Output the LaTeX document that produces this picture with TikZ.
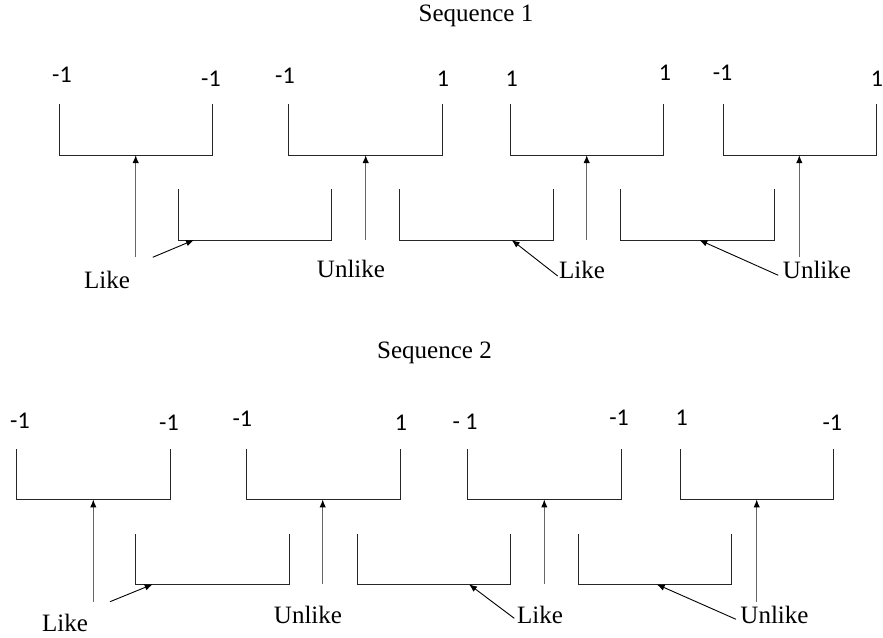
\documentclass[tikz,border=0pt]{standalone}
\usepackage{fontspec}
\setmainfont{Liberation Serif}
\newfontfamily\digitfont{Carlito}
\usetikzlibrary{arrows.meta, positioning}

\begin{document}
\begin{tikzpicture}[x=0.5pt, y=-0.5pt,
    pairline/.style={draw=black!85, line width=0.5pt},
    stem/.style={-{Latex[color=black, length=4pt, width=3.2pt]}, draw=black!60, line width=0.65pt},
    pointer/.style={-{Latex[length=4pt, width=3.2pt]}, line width=0.45pt},
    val/.style={font=\digitfont\fontsize{12}{14}\selectfont, inner sep=0pt},
    word/.style={font=\fontsize{12.5}{14}\selectfont, inner sep=0pt}]
    \useasboundingbox (0,0) rectangle (883,637);

    % ---------------- Sequence 1 ----------------
    \node[word] (seqA) at (476,16) {Sequence 1};

    % Upper pairs
    \draw[pairline] (59.3,104.3) |- (212.3,155) coordinate[pos=0.75] (uA1) -- (212.3,104.3);
    \draw[pairline] (288.7,104.3) |- (442.3,155) coordinate[pos=0.75] (uA2) -- (442.3,104.3);
    \draw[pairline] (510.3,104.3) |- (663.3,155) coordinate[pos=0.75] (uA3) -- (663.3,104.3);
    \draw[pairline] (723,104.3) |- (876.3,155) coordinate[pos=0.75] (uA4) -- (876.3,104.3);

    % Lower pairs
    \draw[pairline] (178.3,189.3) |- (331.7,240) -- (331.7,189.3);
    \draw[pairline] (399.3,189.3) |- (553,240) -- (553,189.3);
    \draw[pairline] (620.7,189.3) |- (774,240) -- (774,189.3);
    \coordinate (lA1) at (194,240);
    \coordinate (lA2) at (511.7,240);
    \coordinate (lA3) at (699.3,240);

    % Spin values
    \node[val] (vA1) at (62,75) {-1};
    \node[val] (vA2) at (211,79) {-1};
    \node[val] (vA3) at (285,76) {-1};
    \node[val] (vA4) at (443,79) {1};
    \node[val] (vA5) at (511.7,79) {1};
    \node[val] (vA6) at (665,73) {1};
    \node[val] (vA7) at (722.5,73) {-1};
    \node[val] (vA8) at (877,79) {1};

    % Labels
    \node[word] (likeA1) at (107,280) {Like};
    \node[word] (unlikeA1) at (351,268.5) {Unlike};
    \node[word] (likeA2) at (582,270) {Like};
    \node[word] (unlikeA2) at (817,270) {Unlike};

    % Vertical arrows into the upper pairs
    \coordinate (sA1) at (135.7,257);
    \coordinate (sA2) at (365.7,240);
    \coordinate (sA3) at (586.7,240);
    \coordinate (sA4) at (799.3,257);
    \draw[stem] (sA1) -- (sA1 |- uA1);
    \draw[stem] (sA2) -- (sA2 |- uA2);
    \draw[stem] (sA3) -- (sA3 |- uA3);
    \draw[stem] (sA4) -- (sA4 |- uA4);

    % Slanted arrows into the lower pairs
    \coordinate (pA1) at (152.7,257.3);
    \coordinate (pA2) at (557.7,276);
    \coordinate (pA3) at (778.3,275.3);
    \draw[pointer] (pA1) -- (lA1);
    \draw[pointer] (pA2) -- (lA2);
    \draw[pointer] (pA3) -- (lA3);

    % ---------------- Sequence 2 ----------------
    \node[word] (seqB) at (434.5,353) {Sequence 2};

    % Upper pairs
    \draw[pairline] (16.7,449) |- (170,499.3) coordinate[pos=0.75] (uB1) -- (170,449);
    \draw[pairline] (246.7,449) |- (400,499.3) coordinate[pos=0.75] (uB2) -- (400,449);
    \draw[pairline] (467.3,449) |- (621,499.3) coordinate[pos=0.75] (uB3) -- (621,449);
    \draw[pairline] (680.3,449) |- (833.7,499.3) coordinate[pos=0.75] (uB4) -- (833.7,449);

    % Lower pairs
    \draw[pairline] (135.7,534) |- (289,584.3) -- (289,534);
    \draw[pairline] (357.3,534) |- (510.3,584.3) -- (510.3,534);
    \draw[pairline] (578.3,534) |- (731.7,584.3) -- (731.7,534);
    \coordinate (lB1) at (152.7,584.3);
    \coordinate (lB2) at (469,584.3);
    \coordinate (lB3) at (656.7,584.3);

    % Spin values
    \node[val] (vB1) at (20,420.7) {-1};
    \node[val] (vB2) at (169,423) {-1};
    \node[val] (vB3) at (242.3,419) {-1};
    \node[val] (vB4) at (401,423) {1};
    \node[val] (vB5) at (465,421.7) {- 1};
    \node[val] (vB6) at (619,418) {-1};
    \node[val] (vB7) at (681.7,418) {1};
    \node[val] (vB8) at (832.3,423) {-1};

    % Labels
    \node[word] (likeB1) at (65,623) {Like};
    \node[word] (unlikeB1) at (308,615) {Unlike};
    \node[word] (likeB2) at (540,615) {Like};
    \node[word] (unlikeB2) at (774.5,615) {Unlike};

    % Vertical arrows into the upper pairs
    \coordinate (sB1) at (93.3,601.7);
    \coordinate (sB2) at (322.7,584.3);
    \coordinate (sB3) at (544.3,584.3);
    \coordinate (sB4) at (756.7,601.7);
    \draw[stem] (sB1) -- (sB1 |- uB1);
    \draw[stem] (sB2) -- (sB2 |- uB2);
    \draw[stem] (sB3) -- (sB3 |- uB3);
    \draw[stem] (sB4) -- (sB4 |- uB4);

    % Slanted arrows into the lower pairs
    \coordinate (pB1) at (110,601.7);
    \coordinate (pB2) at (514.3,618.3);
    \coordinate (pB3) at (736,619.3);
    \draw[pointer] (pB1) -- (lB1);
    \draw[pointer] (pB2) -- (lB2);
    \draw[pointer] (pB3) -- (lB3);

\end{tikzpicture}
\end{document}
